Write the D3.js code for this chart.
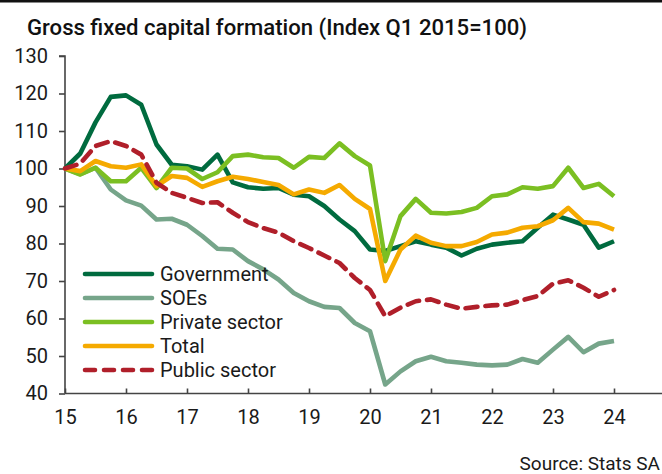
<!DOCTYPE html>
<html>
<head>
<meta charset="utf-8">
<script src="https://cdn.jsdelivr.net/npm/d3@7"></script>
<style>
  html, body { margin: 0; padding: 0; background: #fff; }
  svg { display: block; }
</style>
</head>
<body>
<svg id="chart" width="662" height="474"></svg>
<script>
// ---- Data (quarterly, Q1 2015 .. Q1 2024) ----
const startYear = 15;
const yTicks = [40, 50, 60, 70, 80, 90, 100, 110, 120, 130];
const xTicks = [15, 16, 17, 18, 19, 20, 21, 22, 23, 24];
const seriesNames = ["Government", "SOEs", "Private sector", "Total", "Public sector"];

const government = [100, 104, 112.3, 119.1, 119.5, 117, 106.4, 101, 100.6, 99.7, 103.7, 96.3, 95,
  94.6, 94.8, 93, 92.6, 90, 86.4, 83.3, 78.4, 78, 79.3, 80.6, 79.7,
  78.9, 76.8, 78.6, 79.7, 80.2, 80.6, 84.2, 87.7, 86.4, 85, 78.9, 80.6];
const soes = [100, 98.5, 100.2, 94.4, 91.5, 90.1, 86.4, 86.6, 85, 82, 78.6, 78.4, 75.3,
  73.1, 70.4, 66.8, 64.6, 63.1, 62.8, 58.8, 56.6, 42.4, 45.9, 48.6, 49.8,
  48.6, 48.2, 47.7, 47.5, 47.7, 49.2, 48.2, 51.7, 55.1, 51, 53.3, 54];
const privateSector = [100, 98.4, 100.2, 96.6, 96.6, 100.2, 94.8, 100.2, 100, 97.2, 99, 103.3, 103.7,
  103, 102.8, 100.2, 103.1, 102.8, 106.7, 103.3, 100.8, 75.3, 87.3, 91.9, 88.2,
  88, 88.4, 89.5, 92.6, 93.1, 95, 94.6, 95.3, 100.2, 94.8, 95.9, 92.6];
const total = [100, 99.3, 102, 100.6, 100.2, 101.1, 95.3, 98, 97.5, 95.1, 96.6, 97.8, 97.2,
  96.4, 95.6, 93.1, 94.4, 93.5, 95.6, 91.9, 89.2, 70, 78.4, 82.1, 80.2,
  79.3, 79.3, 80.4, 82.4, 82.9, 84.2, 84.6, 86.2, 89.5, 85.7, 85.3, 83.7];
const publicSector = [100, 101.3, 106, 107.3, 106, 103.7, 96.2, 93.5, 92.2, 90.8, 91, 88.2, 85.7,
  84.1, 82.9, 80.6, 78.8, 76.8, 74.8, 70.8, 67.6, 60.6, 62.9, 64.6, 65.1,
  63.7, 62.6, 63.1, 63.5, 63.7, 64.9, 66, 69.3, 70.2, 68.2, 65.8, 67.6];

const seriesColors = ["#006b3f", "#76a58a", "#7bbf22", "#f5aa00", "#b01f2a"];
const seriesValues = [government, soes, privateSector, total, publicSector];

// ---- Chart ----
const svg = d3.select("#chart");
const W = 662, H = 474;
const fontFam = "Roboto, 'Noto Sans', sans-serif";

// top rule
svg.append("rect").attr("x", 0).attr("y", 0).attr("width", W).attr("height", 2.5).attr("fill", "#111");

// title
svg.append("text")
  .attr("x", 27).attr("y", 35)
  .attr("font-family", "Roboto, 'Noto Sans', sans-serif")
  .attr("font-weight", 500)
  .attr("font-size", 21.5)
  .attr("textLength", 500).attr("lengthAdjust", "spacingAndGlyphs")
  .attr("fill", "#111")
  .text("Gross fixed capital formation (Index Q1 2015=100)");

const x = d3.scaleLinear().domain([15, 24.8]).range([65, 662.8]);
const y = d3.scaleLinear().domain([40, 130]).range([393.5, 56]);

// axes
const yAxis = d3.axisLeft(y).tickValues(yTicks).tickSize(6).tickPadding(11).tickFormat(d3.format("d"));
const xAxis = d3.axisBottom(x).tickValues(xTicks).tickSizeInner(-5).tickSizeOuter(0).tickPadding(16).tickFormat(d3.format("d"));

const gy = svg.append("g").attr("transform", `translate(${x(15)},0)`).call(yAxis);
const gx = svg.append("g").attr("transform", `translate(0,${y(40)})`).call(xAxis);

[gx, gy].forEach(g => {
  g.select(".domain").attr("stroke", "#444").attr("stroke-width", 1.6);
  g.selectAll(".tick line").attr("stroke", "#444").attr("stroke-width", 1.6);
  g.selectAll(".tick text").attr("font-family", fontFam).attr("font-size", 20).attr("fill", "#1a1a1a");
});
gy.select(".domain").attr("d", `M-6,${y(130)}H0V${y(40)}`);
gx.select(".domain").attr("d", `M${x(15)},0H${x(24.8)}`);

// lines
const line = d3.line()
  .x((d, i) => x(startYear + i / 4))
  .y(d => y(d));

seriesValues.forEach((vals, k) => {
  const p = svg.append("path")
    .datum(vals)
    .attr("d", line)
    .attr("fill", "none")
    .attr("stroke", seriesColors[k])
    .attr("stroke-width", 4.6)
    .attr("stroke-linejoin", "round")
    .attr("stroke-linecap", "butt");
  if (k === 4) p.attr("stroke-dasharray", "12,8").attr("stroke-linecap", "round");
});

// legend
const legendY0 = 274, legendStep = 24;
seriesNames.forEach((name, k) => {
  const ly = legendY0 + k * legendStep;
  const l = svg.append("line")
    .attr("x1", 85).attr("x2", 152)
    .attr("y1", ly).attr("y2", ly)
    .attr("stroke", seriesColors[k])
    .attr("stroke-width", 4.6)
    .attr("stroke-linecap", "round");
  if (k === 4) l.attr("stroke-dasharray", "10,9");
  svg.append("text")
    .attr("x", 160).attr("y", ly)
    .attr("dy", "0.35em")
    .attr("font-family", fontFam)
    .attr("font-size", 20)
    .attr("fill", "#1a1a1a")
    .text(name);
});

// source
svg.append("text")
  .attr("x", 660).attr("y", 470)
  .attr("text-anchor", "end")
  .attr("font-family", fontFam)
  .attr("font-size", 19)
  .attr("fill", "#1a1a1a")
  .text("Source: Stats SA");
</script>
</body>
</html>
